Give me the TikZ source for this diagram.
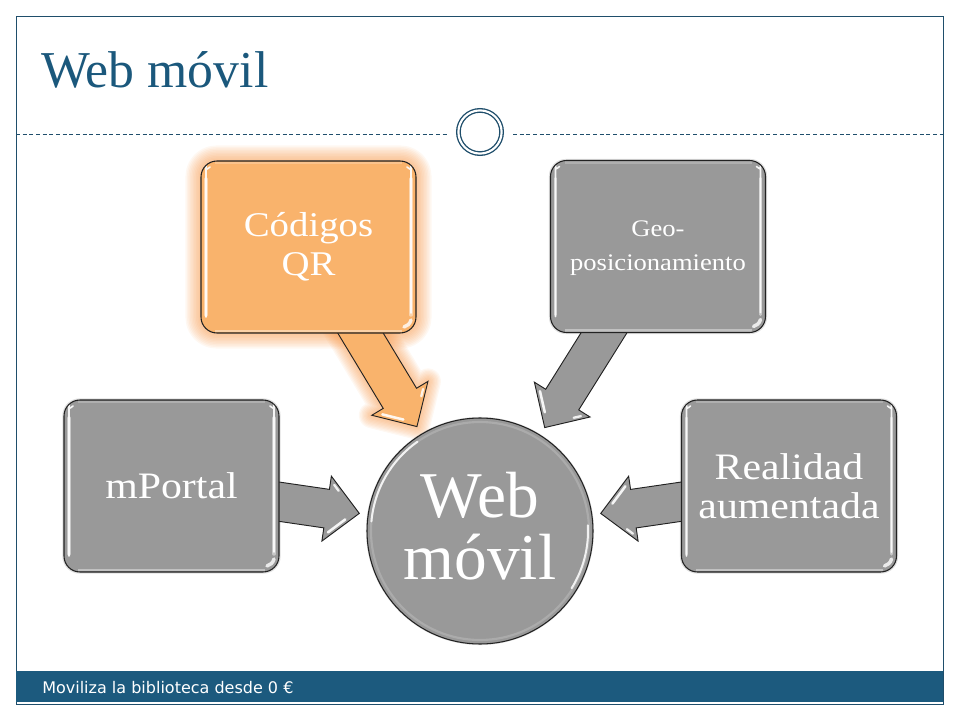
\documentclass[tikz,border=0pt]{standalone}
\usepackage{fontspec}
\setmainfont{Liberation Serif}
\newfontfamily\boxfont[FakeStretch=1.12]{Liberation Serif}
\newfontfamily\footfont{DejaVu Sans}
\usetikzlibrary{calc}
\definecolor{framec}{HTML}{1F4E6B}
\definecolor{titlec}{HTML}{1B587C}
\definecolor{bandc}{HTML}{1C5A7E}
\definecolor{greyc}{HTML}{999999}
\definecolor{orangec}{HTML}{F9B36C}
\definecolor{glowc}{HTML}{F79646}
\definecolor{edgec}{HTML}{222222}
\pgfdeclarelayer{backl}
\pgfdeclarelayer{midl}
\pgfsetlayers{backl,midl,main}
\tikzset{
  softlight/.style={white,opacity=.45,line width=2.6pt,line cap=round},
  hardlight/.style={white,opacity=.9,line width=1.2pt,line cap=round},
  bevelbox/.style={rectangle,rounded corners=12pt,draw=edgec,line width=.8pt,fill=#1,
    minimum width=161.25pt,minimum height=129pt,inner sep=0pt,align=center,text=white,
    path picture={
      \coordinate (nw) at (path picture bounding box.north west);
      \coordinate (ne) at (path picture bounding box.north east);
      \coordinate (sw) at (path picture bounding box.south west);
      \coordinate (se) at (path picture bounding box.south east);
      \draw[white,opacity=.22,line width=2pt] ($(nw)+(14,2)$) -- ($(ne)+(-14,2)$);
      \draw[white,opacity=.4,line width=2pt] ($(sw)+(14,-2)$) -- ($(se)+(-14,-2)$);
      \draw[softlight] ($(nw)+(5,18)$) -- ($(sw)+(5,-18)$);
      \draw[softlight] ($(ne)+(-5,18)$) -- ($(se)+(-5,-18)$);
      \draw[hardlight] ($(nw)+(9,6)$) .. controls ($(nw)+(6,8)$) and ($(nw)+(5,11)$) .. ($(nw)+(5,18)$) -- ($(sw)+(5,-16)$);
      \draw[hardlight] ($(ne)+(-9,6)$) .. controls ($(ne)+(-6,8)$) and ($(ne)+(-5,11)$) .. ($(ne)+(-5,18)$) -- ($(se)+(-5,-20)$);
      \draw[softlight,opacity=.8] ($(se)+(-5,-13)$) .. controls ($(se)+(-6,-9)$) and ($(se)+(-9,-7)$) .. ($(se)+(-12,-6)$);
    }},
  blockarrow/.style={draw=edgec,line width=.7pt,line join=miter,fill=#1},
  glowline/.style={draw=glowc,draw opacity=.07,line join=round,fill=none},
  softshadow/.style={draw=black,draw opacity=.12,fill=none,line width=1.6pt},
  bwords/.style={font=\boxfont\fontsize{#1}{29pt}\selectfont},
}
% #1 source node: outline of the block arrow from that node to the centre circle
\newcommand{\arrowoutline}[1]{%
    ($(#1)!14.6pt!90:(T#1)$) -- ($(H#1)!14.6pt!90:(T#1)$) -- ($(H#1)!24.6pt!90:(T#1)$) --
    (T#1) --
    ($(H#1)!24.6pt!-90:(T#1)$) -- ($(H#1)!14.6pt!-90:(T#1)$) -- ($(#1)!14.6pt!-90:(T#1)$) -- cycle}
\newcommand{\blockarrowfrom}[2]{%
  \coordinate (T#1) at ($(web)!91.5pt!(#1)$);
  \coordinate (H#1) at ($(T#1)!24.75pt!(#1)$);
  \draw[blockarrow=#2] \arrowoutline{#1};
  \draw[hardlight,opacity=.9,line width=1.9pt]
    ($($(H#1)!3.5pt!(T#1)$)!17.5pt!-90:(T#1)$) -- ($($(H#1)!15pt!(T#1)$)!6pt!-90:(T#1)$);
  \draw[hardlight,opacity=.85,line width=1.7pt]
    ($($(H#1)!3pt!(T#1)$)!18.5pt!90:(T#1)$) -- ($($(H#1)!7pt!(T#1)$)!14.5pt!90:(T#1)$);
}
\begin{document}
\begin{tikzpicture}[x=.75pt,y=-.75pt]
\useasboundingbox (0,0) rectangle (960,720);
% frame
\draw[framec,line width=.7pt] (16,16) rectangle (943,704);
\fill[bandc] (16,671) rectangle (943,702);
\draw[densely dashed,framec,line width=.5pt] (16,134) -- (448,134);
\draw[densely dashed,framec,line width=.5pt] (513,134) -- (943,134);
\node[circle,draw=framec,line width=1pt,fill=white,minimum size=32.4pt,inner sep=0pt,double=white,double distance=1.6pt] (dot) at (480,132) {};
% texts
\node[anchor=base west,inner sep=0pt,text=titlec,font=\fontsize{38.8pt}{44pt}\selectfont] (title) at (41,88) {Web móvil};
\node[anchor=base west,inner sep=0pt,text=white,font=\footfont\fontsize{12pt}{14pt}\selectfont] (foot) at (42,693) {Moviliza la biblioteca desde 0 €};
% diagram nodes
\node[circle,draw=edgec,line width=.8pt,fill=greyc,minimum size=169.5pt,inner sep=0pt,align=center,text=white,font=\fontsize{49pt}{46.5pt}\selectfont] (web) at (480,531) {Web\\móvil\rule[-8pt]{0pt}{1pt}};
\node[bevelbox=greyc,bwords=28pt] (map) at (171.5,486) {mPortal};
\node[bevelbox=orangec,bwords=26pt] (qr) at (308.5,247) {Códigos\\QR};
\node[bevelbox=greyc,font=\boxfont\fontsize{17.8pt}{25.5pt}\selectfont] (geo) at (658,246.5) {\rule{0pt}{15pt}Geo-\\posicionamiento};
\node[bevelbox=greyc,bwords=28pt] (ra) at (789,486) {Realidad\\aumentada};
% bevel of the circle (the y axis runs downward, so angles turn clockwise on the page)
\draw[white,opacity=.18,line width=1.6pt] (web) circle[radius=109];
\draw[hardlight,opacity=.85,line width=1.5pt] ($(web)+(185:109)$) arc[start angle=185,end angle=235,radius=109];
\draw[hardlight,opacity=.85,line width=1.5pt] ($(web)+(-3:108)$) arc[start angle=-3,end angle=32,radius=108];
% arrows
\begin{pgfonlayer}{midl}
\blockarrowfrom{map}{greyc}
\blockarrowfrom{qr}{orangec}
\blockarrowfrom{geo}{greyc}
\blockarrowfrom{ra}{greyc}
\end{pgfonlayer}
% glow and soft shadows
\begin{pgfonlayer}{backl}
\foreach \w in {3,6,...,30}{
  \draw[glowline,rounded corners=12pt,line width=\w*.75pt] (qr.north west) rectangle (qr.south east);
  \draw[glowline,line width=\w*.65pt] \arrowoutline{qr};
}
\draw[softshadow,rounded corners=12pt,yshift=-1.2pt] (map.north west) rectangle (map.south east);
\draw[softshadow,rounded corners=12pt,yshift=-1.2pt] (geo.north west) rectangle (geo.south east);
\draw[softshadow,rounded corners=12pt,yshift=-1.2pt] (ra.north west) rectangle (ra.south east);
\draw[softshadow,yshift=-1.2pt] (web) circle[radius=113];
\end{pgfonlayer}
\end{tikzpicture}
\end{document}
